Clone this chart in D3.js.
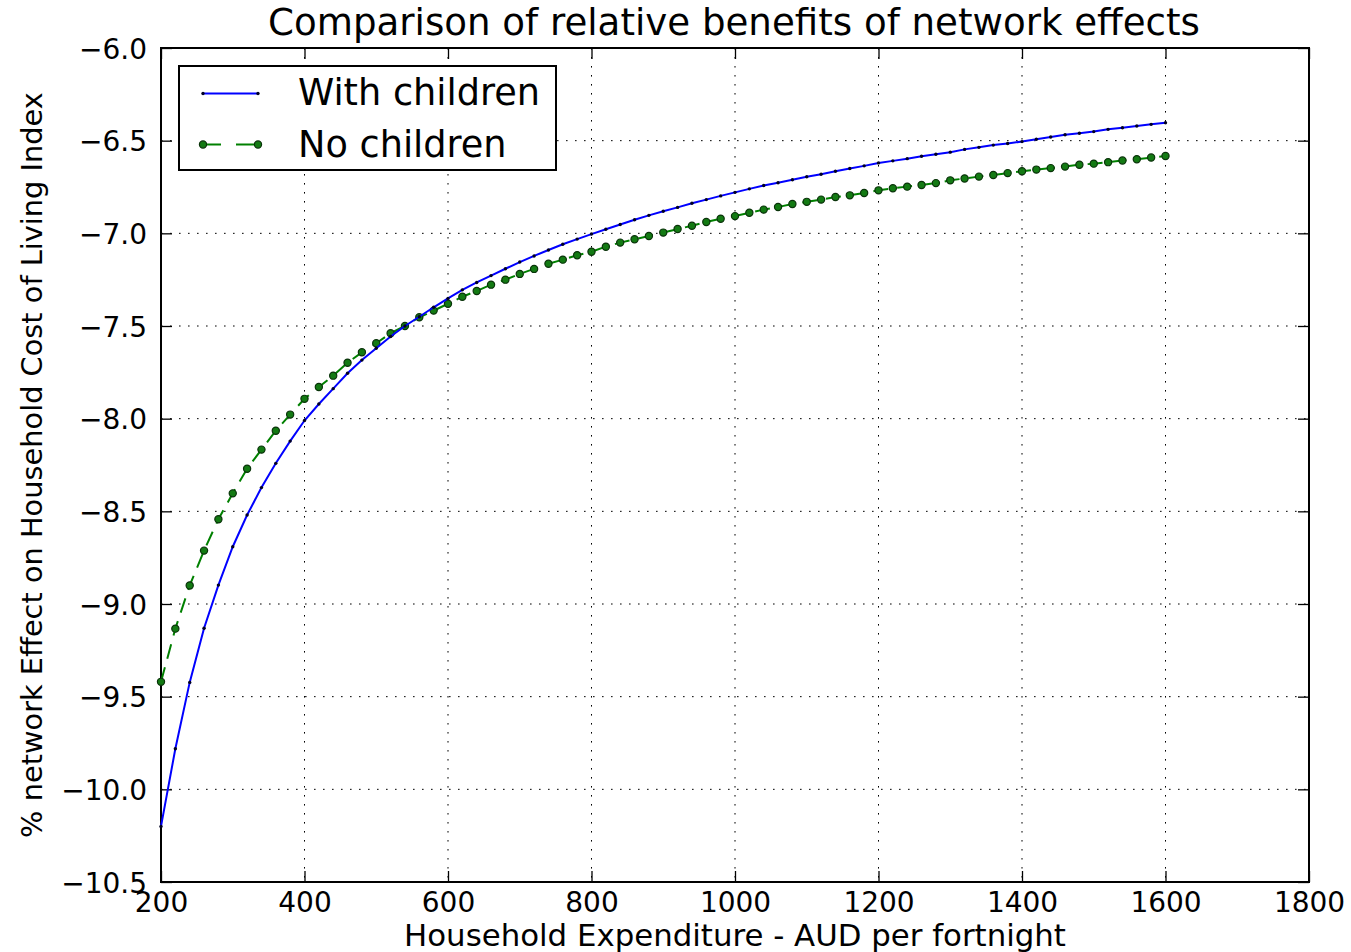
<!DOCTYPE html>
<html>
<head>
<meta charset="utf-8">
<script src="https://cdn.jsdelivr.net/npm/d3@7/dist/d3.min.js"></script>
<style>
html,body{margin:0;padding:0;background:#fff;}
svg{display:block;font-family:"DejaVu Sans",sans-serif;}
</style>
</head>
<body>
<svg id="chart" width="1351" height="952"></svg>
<script>
const expenditure = [200,220,240,260,280,300,320,340,360,380,400,420,440,460,480,500,520,540,560,580,600,620,640,660,680,700,720,740,760,780,800,820,840,860,880,900,920,940,960,980,1000,1020,1040,1060,1080,1100,1120,1140,1160,1180,1200,1220,1240,1260,1280,1300,1320,1340,1360,1380,1400,1420,1440,1460,1480,1500,1520,1540,1560,1580,1600];
const withChildren = [-10.200,-9.781,-9.423,-9.131,-8.898,-8.691,-8.520,-8.372,-8.241,-8.121,-8.010,-7.921,-7.838,-7.755,-7.684,-7.620,-7.557,-7.500,-7.450,-7.399,-7.351,-7.305,-7.265,-7.228,-7.191,-7.155,-7.122,-7.090,-7.059,-7.031,-7.004,-6.978,-6.952,-6.927,-6.903,-6.881,-6.860,-6.838,-6.818,-6.798,-6.779,-6.760,-6.742,-6.727,-6.711,-6.695,-6.681,-6.665,-6.650,-6.636,-6.620,-6.609,-6.597,-6.584,-6.573,-6.562,-6.547,-6.536,-6.524,-6.515,-6.505,-6.492,-6.480,-6.468,-6.460,-6.451,-6.439,-6.430,-6.421,-6.412,-6.403];
const noChildren = [-9.420,-9.133,-8.900,-8.712,-8.543,-8.403,-8.270,-8.167,-8.065,-7.978,-7.893,-7.829,-7.768,-7.698,-7.642,-7.593,-7.539,-7.500,-7.453,-7.417,-7.380,-7.342,-7.311,-7.277,-7.250,-7.219,-7.192,-7.164,-7.142,-7.118,-7.099,-7.072,-7.050,-7.032,-7.014,-6.996,-6.977,-6.959,-6.939,-6.921,-6.907,-6.889,-6.872,-6.858,-6.842,-6.830,-6.818,-6.804,-6.795,-6.782,-6.768,-6.757,-6.748,-6.739,-6.729,-6.714,-6.704,-6.694,-6.685,-6.675,-6.665,-6.656,-6.648,-6.640,-6.630,-6.624,-6.616,-6.607,-6.600,-6.591,-6.583];
const xTicks = [200,400,600,800,1000,1200,1400,1600,1800];
const yTicks = [-6.0,-6.5,-7.0,-7.5,-8.0,-8.5,-9.0,-9.5,-10.0,-10.5];
const seriesNames = ["With children","No children"];
const titleText = "Comparison of relative benefits of network effects";
const xLabelText = "Household Expenditure - AUD per fortnight";
const yLabelText = "% network Effect on Household Cost of Living Index";

const svg = d3.select("#chart");
const L = 161, T = 48, R = 1309, B = 882;
const x = d3.scaleLinear().domain([200,1800]).range([L,R]);
const y = d3.scaleLinear().domain([-10.5,-6.0]).range([B,T]);

function fitText(sel, target){
  const w = sel.node().getComputedTextLength();
  const fs = parseFloat(sel.attr("font-size"));
  sel.attr("font-size", (fs*target/w).toFixed(2));
}

// grid
const grid = svg.append("g");
grid.selectAll("line.gx").data(xTicks.slice(1,-1)).join("line")
  .attr("x1",d=>x(d)).attr("x2",d=>x(d)).attr("y1",T).attr("y2",B)
  .attr("stroke","#000").attr("stroke-width",1).attr("stroke-dasharray","1.6,7.4");
grid.selectAll("line.gy").data(yTicks.slice(1,-1)).join("line")
  .attr("y1",d=>y(d)).attr("y2",d=>y(d)).attr("x1",L).attr("x2",R)
  .attr("stroke","#000").attr("stroke-width",1).attr("stroke-dasharray","1.6,7.4");

// axes with inward ticks on all four sides
const fmtY = d => d3.format(".1f")(d).replace("-","\u2212");
const axB = svg.append("g").attr("transform",`translate(0,${B})`)
  .call(d3.axisBottom(x).tickValues(xTicks).tickSizeInner(-11).tickSizeOuter(0).tickPadding(18).tickFormat(d3.format("d")));
const axT = svg.append("g").attr("transform",`translate(0,${T})`)
  .call(d3.axisTop(x).tickValues(xTicks).tickSizeInner(-11).tickSizeOuter(0).tickFormat(""));
const axL = svg.append("g").attr("transform",`translate(${L},0)`)
  .call(d3.axisLeft(y).tickValues(yTicks).tickSizeInner(-11).tickSizeOuter(0).tickPadding(14).tickFormat(fmtY));
const axR = svg.append("g").attr("transform",`translate(${R},0)`)
  .call(d3.axisRight(y).tickValues(yTicks).tickSizeInner(-11).tickSizeOuter(0).tickFormat(""));
[axB,axT,axL,axR].forEach(a=>{
  a.select(".domain").remove();
  a.selectAll(".tick line").attr("stroke","#000").attr("stroke-width",1.3);
  a.selectAll(".tick text").attr("fill","#000").attr("font-size",28).attr("font-family","DejaVu Sans");
});
axB.selectAll(".tick text").attr("dy",null).attr("y",30);
axL.selectAll(".tick text").attr("dy","0.36em");

// frame
svg.append("rect").attr("x",L).attr("y",T).attr("width",R-L).attr("height",B-T)
  .attr("fill","none").attr("stroke","#000").attr("stroke-width",2);

// lines
const pts1 = expenditure.map((e,i)=>[e,withChildren[i]]);
const pts2 = expenditure.map((e,i)=>[e,noChildren[i]]);
const line = d3.line().x(d=>x(d[0])).y(d=>y(d[1]));
const plot = svg.append("g");
plot.append("path").datum(pts2).attr("d",line).attr("fill","none")
  .attr("stroke","#008000").attr("stroke-width",2).attr("stroke-dasharray","15,9");
plot.selectAll("circle.m2").data(pts2).join("circle")
  .attr("cx",d=>x(d[0])).attr("cy",d=>y(d[1])).attr("r",3.6)
  .attr("fill","#137a13").attr("stroke","#0a330a").attr("stroke-width",1.2);
plot.append("path").datum(pts1).attr("d",line).attr("fill","none")
  .attr("stroke","#0000ff").attr("stroke-width",2);
plot.selectAll("circle.m1").data(pts1).join("circle")
  .attr("cx",d=>x(d[0])).attr("cy",d=>y(d[1])).attr("r",1.7)
  .attr("fill","#000022");

// legend
const lg = svg.append("g");
lg.append("rect").attr("x",179).attr("y",66).attr("width",377).attr("height",104)
  .attr("fill","#fff").attr("stroke","#000").attr("stroke-width",2);
lg.append("line").attr("x1",203).attr("x2",258).attr("y1",93.5).attr("y2",93.5)
  .attr("stroke","#0000ff").attr("stroke-width",2);
lg.selectAll("circle.l1").data([203,258]).join("circle")
  .attr("cx",d=>d).attr("cy",93.5).attr("r",1.7).attr("fill","#000022");
lg.append("line").attr("x1",203).attr("x2",258).attr("y1",144.5).attr("y2",144.5)
  .attr("stroke","#008000").attr("stroke-width",2).attr("stroke-dasharray","18,15");
lg.selectAll("circle.l2").data([203,258]).join("circle")
  .attr("cx",d=>d).attr("cy",144.5).attr("r",3.6)
  .attr("fill","#137a13").attr("stroke","#0a330a").attr("stroke-width",1.2);
const lt1 = lg.append("text").attr("x",298).attr("y",105).attr("font-size",33).attr("fill","#000").text(seriesNames[0]);
fitText(lt1,242);
const lt2 = lg.append("text").attr("x",298).attr("y",156.5).attr("font-size",+lt1.attr("font-size")).attr("fill","#000").text(seriesNames[1]);

// title & labels
const tt = svg.append("text").attr("x",734).attr("y",35).attr("text-anchor","middle")
  .attr("font-size",30).attr("fill","#000").text(titleText);
fitText(tt,932);
const xl = svg.append("text").attr("x",735).attr("y",946).attr("text-anchor","middle")
  .attr("font-size",26).attr("fill","#000").text(xLabelText);
fitText(xl,662);
const yl = svg.append("text").attr("transform","translate(42,465) rotate(-90)").attr("text-anchor","middle")
  .attr("font-size",26).attr("fill","#000").text(yLabelText);
fitText(yl,746);
</script>
</body>
</html>
